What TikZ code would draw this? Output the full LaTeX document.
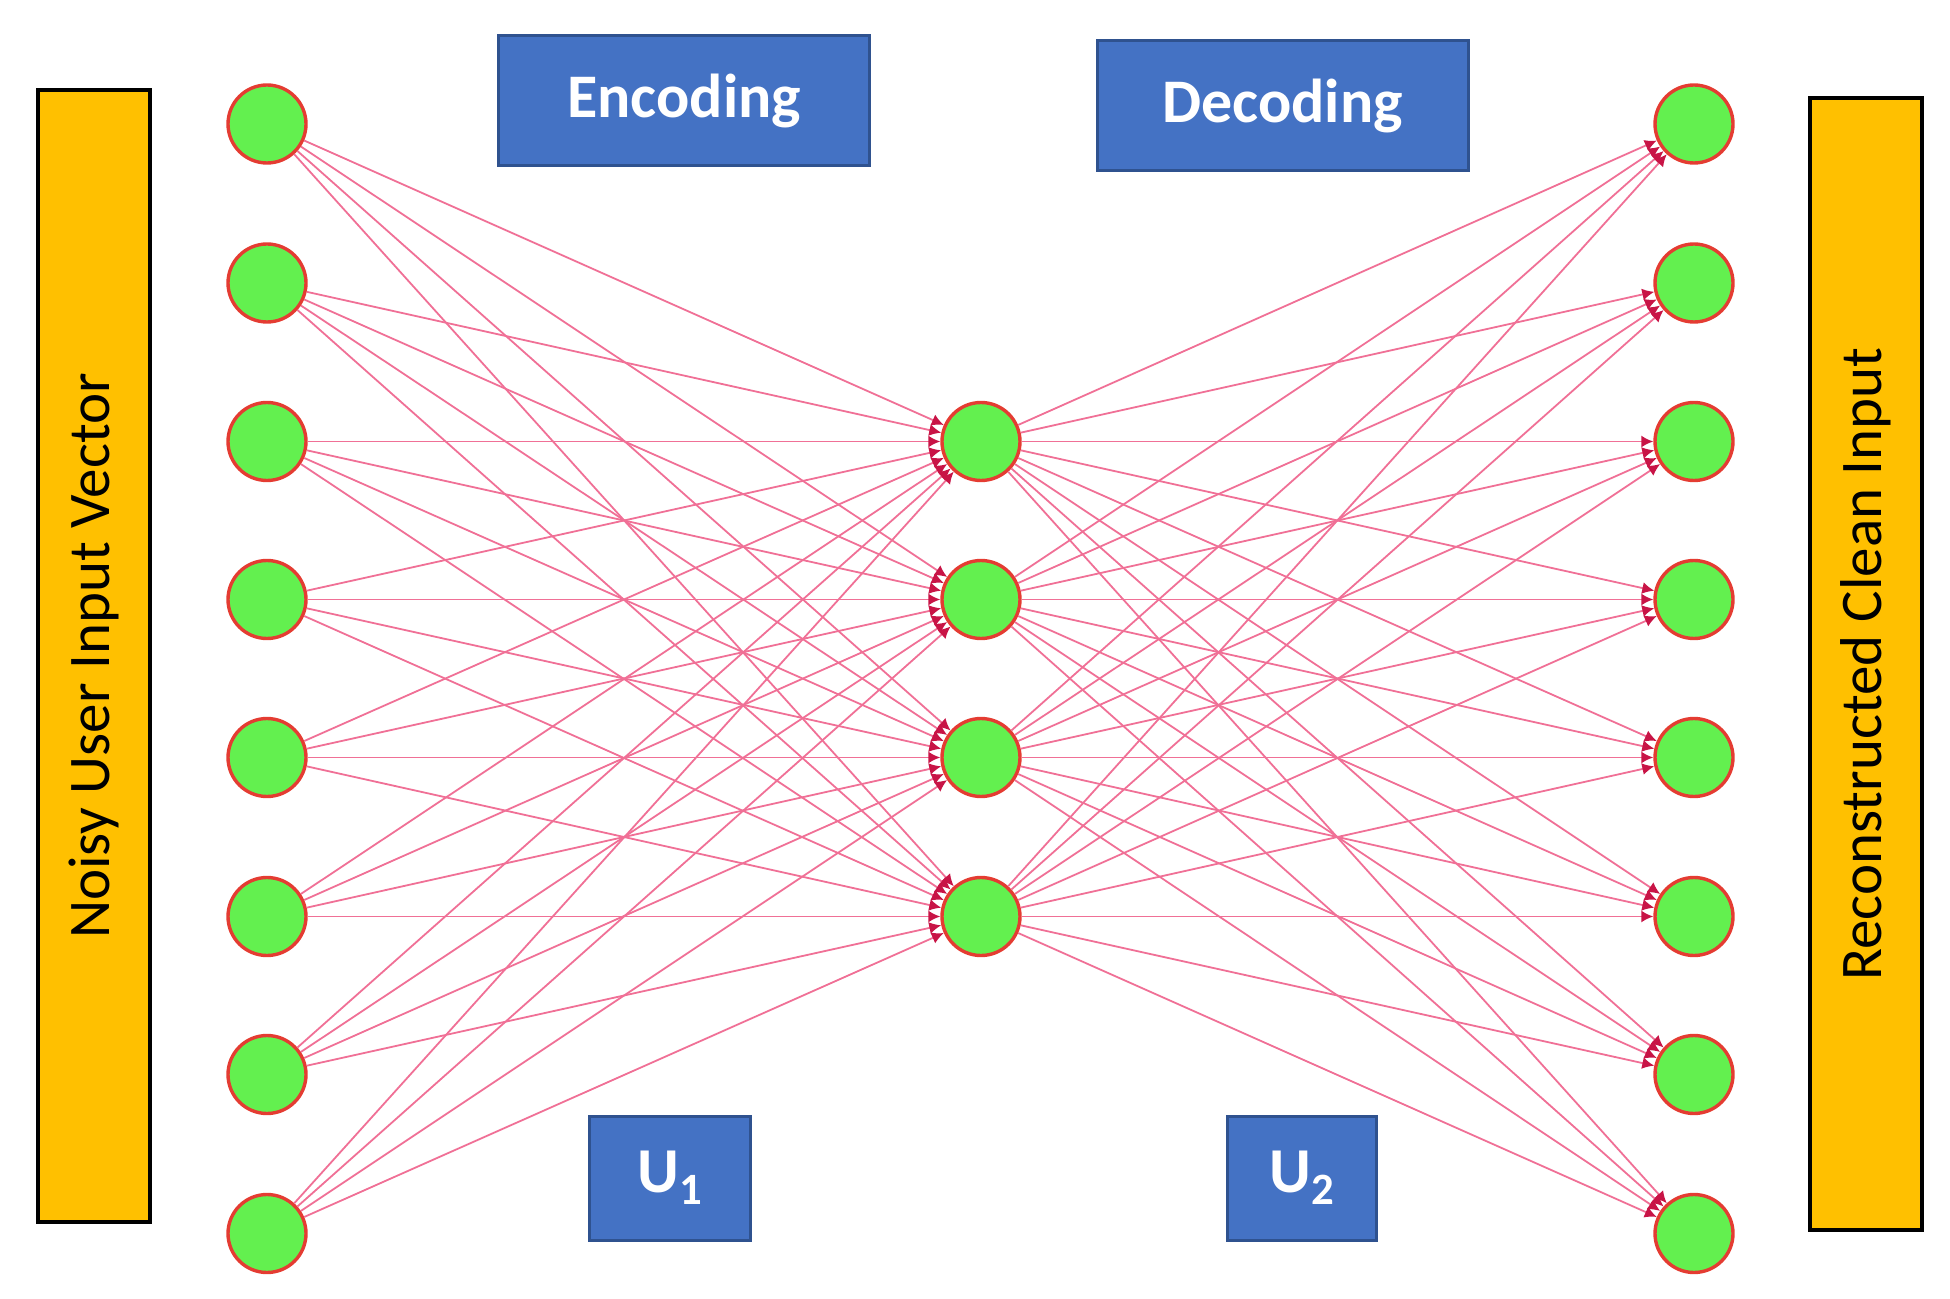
\documentclass[tikz,border=0pt]{standalone}
\usepackage{fontspec}
\setmainfont{Carlito}
\usetikzlibrary{arrows.meta}
\definecolor{nodefill}{RGB}{99,240,79}
\definecolor{nodeline}{RGB}{228,60,50}
\definecolor{edgecol}{RGB}{240,112,150}
\definecolor{tipcol}{RGB}{200,20,70}
\definecolor{boxfill}{RGB}{68,114,196}
\definecolor{boxline}{RGB}{47,82,143}
\definecolor{barfill}{RGB}{255,192,0}
\begin{document}
\begin{tikzpicture}[x=0.5pt,y=-0.5pt,
 neuron/.style={circle,fill=nodefill,draw=nodeline,line width=1.7pt,minimum size=39pt,inner sep=0pt},
 conn/.style={draw=edgecol,line width=0.9pt,-{Latex[length=6pt,width=6pt,color=tipcol]}},
 labelbox/.style={fill=boxfill,draw=boxline,line width=1.5pt,text=white,font=\fontsize{31}{36}\selectfont\bfseries,inner sep=0pt},
 bar/.style={fill=barfill,draw=black,line width=2pt,inner sep=0pt,rotate=90,minimum width=566pt,font=\fontsize{29.5}{34}\selectfont}]
\useasboundingbox (0,0) rectangle (1950,1299);
% side bars
\node[bar,minimum height=55.75pt] (inbar) at (94,656) {Noisy User Input Vector};
\node[bar,minimum height=56.25pt] (outbar) at (1866,664) {Reconstructed Clean Input};
% label boxes
\node[labelbox,minimum width=185.5pt,minimum height=65pt] (enc) at (684,101) {Encoding};
\node[labelbox,minimum width=185.5pt,minimum height=65pt] (dec) at (1282.5,106) {Decoding};
\node[labelbox,minimum width=80.75pt,minimum height=62pt,font=\fontsize{32}{36}\selectfont\bfseries] (u1) at (670,1178) {U\textsubscript{1}};
\node[labelbox,minimum width=74.75pt,minimum height=62pt,font=\fontsize{32}{36}\selectfont\bfseries] (u2) at (1302,1178) {U\textsubscript{2}};
% neurons
\foreach \y [count=\i] in {124,283,441.5,599.5,757.5,916.5,1074.5,1233.5} {
  \node[neuron] (L\i) at (267,\y) {};
  \node[neuron] (R\i) at (1694,\y) {};
}
\foreach \y [count=\j] in {441.5,599.5,757.5,916.5} {
  \node[neuron] (M\j) at (981,\y) {};
}
% connections
\foreach \i in {1,...,8} {
  \foreach \j in {1,...,4} {
    \draw[conn] (L\i) -- (M\j);
    \draw[conn] (M\j) -- (R\i);
  }
}
\end{tikzpicture}
\end{document}
